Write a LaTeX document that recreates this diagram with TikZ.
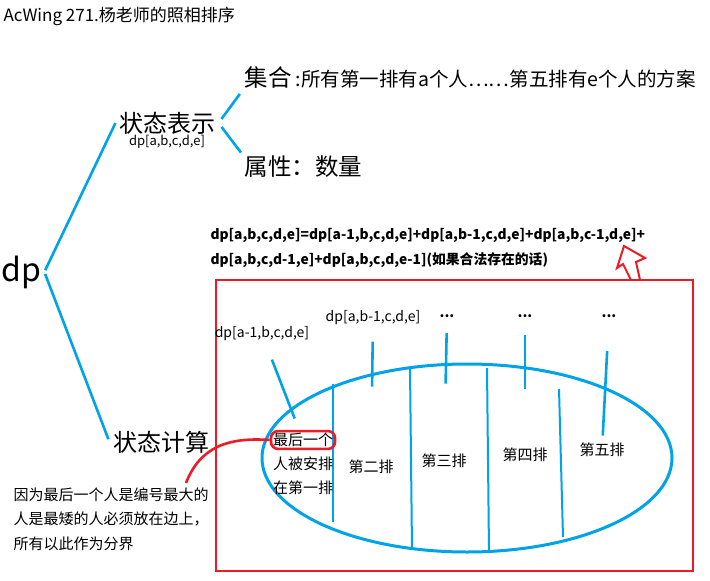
\documentclass[tikz,border=0pt]{standalone}
\usepackage{fontspec}
\setmainfont{Noto Sans CJK SC}
\usetikzlibrary{positioning,shapes.geometric}

\definecolor{penblue}{RGB}{0,162,232}
\definecolor{penred}{RGB}{237,28,36}

\begin{document}
\begin{tikzpicture}[x=1pt,y=-1pt,
    blueline/.style={draw=penblue, line width=2.6pt},
    redline/.style={draw=penred, line width=2.6pt},
    headtext/.style={font=\fontsize{24}{28}\selectfont},
    settext/.style={font=\fontsize{19.5}{23}\selectfont},
    eqtext/.style={font=\bfseries\fontsize{13.8}{16}\selectfont},
    labeltext/.style={font=\fontsize{14}{17}\selectfont},
    rowtext/.style={font=\fontsize{15}{18}\selectfont},
    notetext/.style={font=\fontsize{15}{24.5}\selectfont, align=left}]
    \useasboundingbox (0,0) rectangle (710,581);

    \node (title) [anchor=west, font=\fontsize{17}{20}\selectfont] at (0,16) {AcWing 271.杨老师的照相排序};
    \node (dp) [font=\fontsize{32}{38}\selectfont] at (21,272) {dp};
    \node (repr) [headtext] at (167,123) {状态表示};
    \node (reprsub) [labeltext, font=\fontsize{13}{16}\selectfont, below=-6pt of repr] {dp[a,b,c,d,e]};
    \node (calc) [headtext] at (161,442) {状态计算};
    \node (set) [settext, anchor=west] at (241,78) {{\fontsize{23.5}{28}\selectfont 集合} :所有第一排有a个人……第五排有e个人的方案};
    \node (attr) [headtext, font=\fontsize{23.5}{28}\selectfont, anchor=west] at (241,167) {属性：数量};

    \draw[blueline, shorten <=2pt] (dp.east) -- (repr.west);
    \draw[blueline, shorten <=2pt, shorten >=3pt] (dp.east) -- (calc.west);
    \draw[blueline, shorten <=5pt, shorten >=2pt] (repr.east) -- (set.south west);
    \draw[blueline, shorten <=5pt] (repr.east) -- (attr.north west);

    \node (eqa) [eqtext, anchor=west] at (207,235) {dp[a,b,c,d,e]=dp[a-1,b,c,d,e]+dp[a,b-1,c,d,e]+dp[a,b,c-1,d,e]+};
    \node (eqb) [eqtext, anchor=west] at (207,260) {dp[a,b,c,d-1,e]+dp[a,b,c,d,e-1](如果合法存在的话)};
    \draw[redline, line width=2pt] (640,280) -- (636,262) -- (645,258) -- (624,246) -- (617,268) -- (623,264) -- (631,280);

    \draw[redline] (216,280) rectangle (693,571);
    \node (rows) [ellipse, blueline, line width=3pt, minimum width=410pt, minimum height=188pt] at (467,458) {};
    \foreach \xa/\ya/\xb/\yb in {333/384/333/522, 410/368/412/549, 487/368/489/552, 559/389/563/537}
        \draw[blueline, line width=2pt] (\xa,\ya) -- (\xb,\yb);

    \node (first) [rowtext, draw=penred, line width=2.6pt, rounded corners=7pt, inner sep=2pt] at (303,440) {最后一个};
    \node (firstb) [rowtext] at (303,464) {人被安排};
    \node (firstc) [rowtext] at (303,488) {在第一排};
    \node (second) [rowtext] at (371,467) {第二排};
    \node (third) [rowtext] at (444,461) {第三排};
    \node (fourth) [rowtext] at (525,455) {第四排};
    \node (fifth) [rowtext] at (602,450) {第五排};

    \node (lbla) [labeltext] at (262,334) {dp[a-1,b,c,d,e]};
    \node (lblb) [labeltext] at (373,318) {dp[a,b-1,c,d,e]};
    \node (lblc) [labeltext, font=\bfseries\fontsize{14}{17}\selectfont] at (447,316) {...};
    \node (lbld) [labeltext, font=\bfseries\fontsize{14}{17}\selectfont] at (525,316) {...};
    \node (lble) [labeltext, font=\bfseries\fontsize{14}{17}\selectfont] at (609,316) {...};

    \draw[blueline, shorten <=16pt, shorten >=12pt] (lbla) -- (first);
    \draw[blueline, shorten <=13pt, shorten >=70pt] (lblb) -- (second);
    \draw[blueline, shorten <=12pt, shorten >=67pt] (lblc) -- (third);
    \draw[blueline, shorten <=14pt, shorten >=56pt] (lbld) -- (fourth);
    \draw[blueline, shorten <=30pt, shorten >=4pt] (lble) -- (fifth);

    \node (note) [notetext, anchor=north west] at (10,484) {因为最后一个人是编号最大的\\人是最矮的人必须放在边上，\\所有以此作为分界};
    \coordinate (notetip) at (186,483);
    \draw[redline] (notetip) .. controls (200,447) and (228,437) .. (first.west);
\end{tikzpicture}
\end{document}
